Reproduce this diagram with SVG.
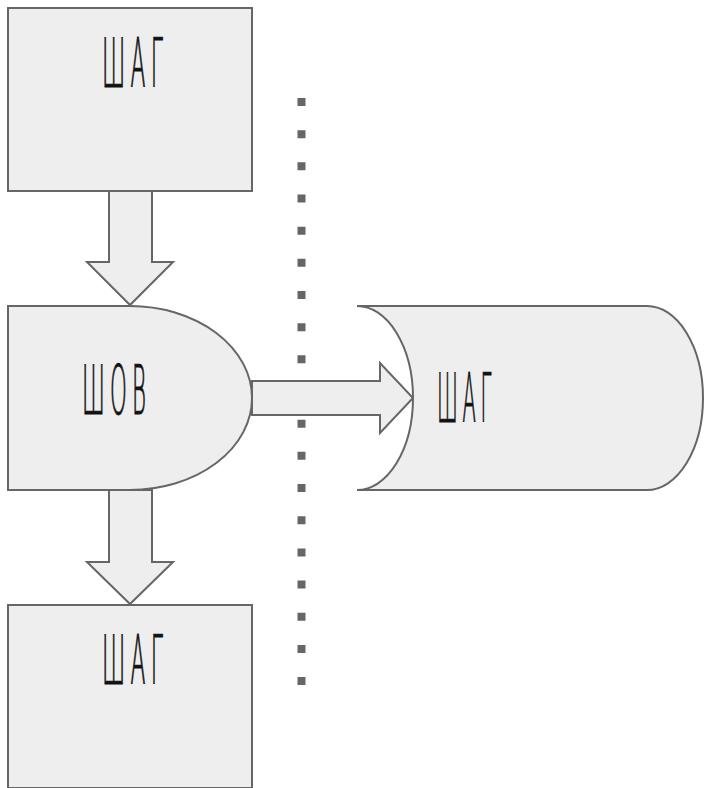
<svg xmlns="http://www.w3.org/2000/svg" width="704" height="788" viewBox="0 0 704 788">
  <style>
    .shape { fill: #eeeeee; stroke: #666666; stroke-width: 2; stroke-linejoin: miter; }
    .label { font-family: "DejaVu Sans", "Liberation Sans", sans-serif; font-weight: 200; font-size: 67px; fill: #111111; stroke: #111111; stroke-width: 1.1; letter-spacing: 16px; }
    .dots { stroke: #666666; stroke-width: 8; stroke-dasharray: 8 24.17; fill: none; }
  </style>
  <rect width="704" height="788" fill="#ffffff"/>

  <!-- separator -->
  <g id="separator">
    <line class="dots" x1="301.5" y1="98" x2="301.5" y2="690"/>
  </g>

  <!-- block arrows -->
  <g id="connectors">
    <path class="shape" d="M109 191 L152 191 L152 262 L173 262 L130 305 L87 262 L109 262 Z"/>
    <path class="shape" d="M109 490 L152 490 L152 562 L173 562 L130 604 L87 562 L109 562 Z"/>
    <path class="shape" d="M252 381 L380 381 L380 363 L413 398 L380 433 L380 415 L252 415 Z"/>
  </g>

  <g id="step-top">
    <rect class="shape" x="8" y="8" width="244" height="183"/>
    <text class="label" x="102" y="87" textLength="66" lengthAdjust="spacingAndGlyphs">ШАГ</text>
  </g>

  <g id="seam">
    <path class="shape" d="M8 306 L130 306 A122 92 0 0 1 130 490 L8 490 Z"/>
    <text class="label" x="82" y="414" textLength="69" lengthAdjust="spacingAndGlyphs">ШОВ</text>
  </g>

  <g id="step-bottom">
    <rect class="shape" x="8" y="605" width="244" height="183"/>
    <text class="label" x="102" y="684" textLength="66" lengthAdjust="spacingAndGlyphs">ШАГ</text>
  </g>

  <g id="step-right">
    <path class="shape" d="M357 306 L647 306 A56 92 0 0 1 647 490 L357 490 A56 92 0 0 0 357 306 Z"/>
    <text class="label" x="437" y="422" textLength="59" lengthAdjust="spacingAndGlyphs">ШАГ</text>
  </g>
</svg>
